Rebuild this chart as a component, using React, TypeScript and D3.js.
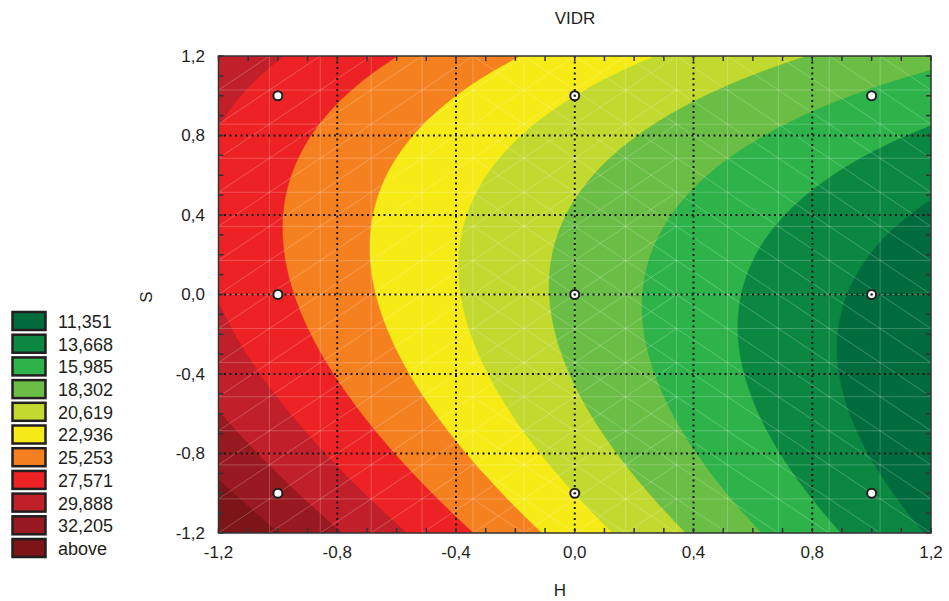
import React, { useMemo } from "react";
import * as d3 from "d3";

// ---- data ----
const levels = [11.351, 13.668, 15.985, 18.302, 20.619, 22.936, 25.253, 27.571, 29.888, 32.205];
const legendLabels = ["11,351", "13,668", "15,985", "18,302", "20,619", "22,936", "25,253", "27,571", "29,888", "32,205", "above"];
const bandColors = ["#006b3d", "#0c8742", "#2db34a", "#6abd45", "#c2d92f", "#f6eb16", "#f58020", "#ed2224", "#c1202a", "#98191f", "#7c1418"];
const tickValues = [-1.2, -0.8, -0.4, 0, 0.4, 0.8, 1.2];
const tickLabels = ["-1,2", "-0,8", "-0,4", "0,0", "0,4", "0,8", "1,2"];
const gridValues = [-0.8, -0.4, 0, 0.4, 0.8];
// design points: [H, S, hasCentreDot]
const designPoints: [number, number, boolean][] = [
  [-1, 1, false], [0, 1, true], [1, 1, false],
  [-1, 0, false], [0, 0, true], [1, 0, true],
  [-1, -1, false], [0, -1, true], [1, -1, false],
];

// contour crossings (H, S), one list per level
const contour11351 = [[1.2, 0.48], [1.0, 0.21], [0.9, -0.04], [0.87, -0.25], [0.89, -0.41], [0.94, -0.64], [1.05, -0.93], [1.16, -1.19]];
const contour13668 = [[1.2, 0.85], [0.98, 0.7], [0.81, 0.55], [0.69, 0.35], [0.6, 0.16], [0.55, 0.0], [0.545, -0.17], [0.56, -0.34], [0.61, -0.54], [0.69, -0.78], [0.79, -1.03], [0.89, -1.19]];
const contour15985 = [[1.2, 1.12], [0.8, 0.95], [0.52, 0.7], [0.42, 0.58], [0.33, 0.4], [0.26, 0.23], [0.23, 0.03], [0.225, -0.1], [0.24, -0.27], [0.28, -0.44], [0.35, -0.64], [0.42, -0.8], [0.53, -1.03], [0.62, -1.19]];
const contour18302 = [[0.79, 1.2], [0.42, 0.98], [0.24, 0.82], [0.11, 0.67], [0.01, 0.52], [-0.06, 0.33], [-0.08, 0.16], [-0.085, 0.0], [-0.07, -0.17], [-0.02, -0.36], [0.045, -0.56], [0.15, -0.78], [0.26, -1.01], [0.36, -1.19]];
const contour20619 = [[0.25, 1.2], [0.0, 1.0], [-0.17, 0.8], [-0.29, 0.57], [-0.36, 0.4], [-0.387, 0.2], [-0.393, 0.06], [-0.38, -0.07], [-0.35, -0.24], [-0.3, -0.41], [-0.24, -0.58], [-0.15, -0.8], [0.0, -1.0], [0.13, -1.19]];
const contour22936 = [[-0.19, 1.2], [-0.39, 0.99], [-0.505, 0.85], [-0.595, 0.7], [-0.663, 0.52], [-0.687, 0.365], [-0.691, 0.164], [-0.676, 0.0], [-0.64, -0.17], [-0.59, -0.32], [-0.505, -0.52], [-0.415, -0.71], [-0.303, -0.96], [-0.223, -1.035], [-0.12, -1.19]];
const contour25253 = [[-0.607, 1.2], [-0.73, 1.05], [-0.83, 0.9], [-0.92, 0.7], [-0.97, 0.52], [-0.985, 0.365], [-0.977, 0.164], [-0.955, 0.0], [-0.91, -0.17], [-0.865, -0.27], [-0.8, -0.41], [-0.707, -0.61], [-0.618, -0.78], [-0.528, -0.96], [-0.448, -1.035], [-0.345, -1.19]];
const contour27571 = [[-1.0, 1.2], [-1.1, 1.04], [-1.157, 0.92], [-1.2, 0.85], [-1.2, -0.06], [-1.134, -0.22], [-1.078, -0.37], [-0.977, -0.56], [-0.865, -0.73], [-0.752, -0.91], [-0.68, -1.035], [-0.561, -1.19]];
const contour29888 = [[-1.2, -0.59], [-1.112, -0.725], [-1.033, -0.842], [-0.94, -1.02], [-0.8, -1.19]];
const contour32205 = [[-1.2, -0.95], [-1.09, -1.035], [-1.02, -1.19]];
const tracesByLevel = [contour11351, contour13668, contour15985, contour18302, contour20619, contour22936, contour25253, contour27571, contour29888, contour32205];

// ---- layout ----
const W = 949, H = 601;
const left = 218.5, right = 931, top = 56, bottom = 533;
const FONT = "'Liberation Sans', Arial, sans-serif";
const TEXT = "#231f20";

function terms(h: number, s: number) {
  return [1, h, s, h * h, h * s, s * s, h * h * h, h * h * s, h * s * s, s * s * s];
}
function solve(A: number[][], b: number[]) {
  const n = b.length;
  const M = A.map((row, i) => [...row, b[i]]);
  for (let c = 0; c < n; c++) {
    let p = c;
    for (let r = c + 1; r < n; r++) if (Math.abs(M[r][c]) > Math.abs(M[p][c])) p = r;
    const tmp = M[c]; M[c] = M[p]; M[p] = tmp;
    for (let r = 0; r < n; r++) {
      if (r === c) continue;
      const f = M[r][c] / M[c][c];
      for (let k = c; k <= n; k++) M[r][k] -= f * M[c][k];
    }
  }
  return M.map((row, i) => row[n] / row[i]);
}
function fitSurface() {
  const k = 10;
  const A = Array.from({ length: k }, () => new Array(k).fill(0));
  const b = new Array(k).fill(0);
  tracesByLevel.forEach((pts, li) => {
    pts.forEach(([h, s]) => {
      const t = terms(h, s);
      for (let r = 0; r < k; r++) {
        b[r] += t[r] * levels[li];
        for (let c = 0; c < k; c++) A[r][c] += t[r] * t[c];
      }
    });
  });
  return solve(A, b);
}

export default function App() {
  const x = d3.scaleLinear().domain([-1.2, 1.2]).range([left, right]);
  const y = d3.scaleLinear().domain([-1.2, 1.2]).range([bottom, top]);

  const bands = useMemo(() => {
    const coef = fitSurface();
    const n = 240;
    const step = 2.4 / n;
    const values = new Array(n * n);
    for (let j = 0; j < n; j++) {
      const s = 1.2 - (j + 0.5) * step;
      for (let i = 0; i < n; i++) {
        const h = -1.2 + (i + 0.5) * step;
        const t = terms(h, s);
        let v = 0;
        for (let q = 0; q < t.length; q++) v += coef[q] * t[q];
        values[j * n + i] = v;
      }
    }
    const cs = d3.contours().size([n, n]).thresholds(levels)(values);
    const proj = d3.geoTransform({
      point(px: number, py: number) {
        (this as any).stream.point(x(-1.2 + px * step), y(1.2 - py * step));
      },
    });
    const path = d3.geoPath(proj);
    return cs.map((c, i) => ({ d: path(c as any) || "", color: bandColors[i + 1] }));
  }, []);

  const minor = d3.range(-12, 13).map((v) => v / 10);
  const nCells = 14;
  const cw = (right - left) / nCells, ch = (bottom - top) / nCells;
  const mesh: string[] = [];
  for (let k = 1; k < nCells; k++) {
    mesh.push(`M${left + k * cw},${top}V${bottom}`);
    mesh.push(`M${left},${top + k * ch}H${right}`);
  }
  for (let c = 0; c < nCells; c++) {
    for (let r = 0; r < nCells; r++) {
      const x0 = left + c * cw, y0 = top + r * ch;
      if (c < 9) mesh.push(`M${x0},${y0 + ch}L${x0 + cw},${y0}`);
      if (c >= 5) mesh.push(`M${x0},${y0}L${x0 + cw},${y0 + ch}`);
    }
  }

  return (
    <svg width={W} height={H} style={{ position: "absolute", left: 0, top: 0, background: "#fff" }} fontFamily={FONT}>
      <defs>
        <clipPath id="plot">
          <rect x={left} y={top} width={right - left} height={bottom - top} />
        </clipPath>
      </defs>
      <g clipPath="url(#plot)">
        <rect x={left} y={top} width={right - left} height={bottom - top} fill={bandColors[0]} />
        {bands.map((b, i) => (
          <path key={i} d={b.d} fill={b.color} stroke={b.color} strokeWidth={0.5} />
        ))}
        <path d={mesh.join("")} stroke="#fff" strokeOpacity={0.22} strokeWidth={1} fill="none" />
        {gridValues.map((v) => (
          <g key={v}>
            <line x1={x(v)} x2={x(v)} y1={top} y2={bottom} stroke="#1a1a1a" strokeWidth={2} strokeDasharray="2,3.5" />
            <line x1={left} x2={right} y1={y(v)} y2={y(v)} stroke="#1a1a1a" strokeWidth={2} strokeDasharray="2,3.5" />
          </g>
        ))}
        {designPoints.map(([h, s, dot], i) => (
          <g key={i}>
            <circle cx={x(h)} cy={y(s)} r={4.5} fill="#fff" stroke={TEXT} strokeWidth={2} />
            {dot && <circle cx={x(h)} cy={y(s)} r={1.3} fill={TEXT} />}
          </g>
        ))}
      </g>
      {/* ticks inward on all sides */}
      {minor.map((v) => (
        <g key={v} stroke="#333" strokeWidth={1.5}>
          <line x1={x(v)} x2={x(v)} y1={bottom} y2={bottom - 5} />
          <line x1={x(v)} x2={x(v)} y1={top} y2={top + 5} />
          <line x1={left} x2={left + 5} y1={y(v)} y2={y(v)} />
          <line x1={right} x2={right - 5} y1={y(v)} y2={y(v)} />
        </g>
      ))}
      <rect x={left} y={top} width={right - left} height={bottom - top} fill="none" stroke="#333" strokeWidth={1.5} />
      {tickValues.map((v, i) => (
        <text key={"x" + v} x={x(v)} y={558} textAnchor="middle" fontSize={17} fill={TEXT}>
          {tickLabels[i]}
        </text>
      ))}
      {tickValues.map((v, i) => (
        <text key={"y" + v} x={205} y={y(v)} dy="0.35em" textAnchor="end" fontSize={17} fill={TEXT}>
          {tickLabels[i]}
        </text>
      ))}
      <text x={575} y={24} textAnchor="middle" fontSize={17} fill={TEXT}>VIDR</text>
      <text x={560} y={596} textAnchor="middle" fontSize={17} fill={TEXT}>H</text>
      <text transform="translate(152,297) rotate(-90)" textAnchor="middle" fontSize={17} fill={TEXT}>S</text>
      {legendLabels.map((lab, i) => (
        <g key={lab}>
          <rect x={12.5} y={312 + i * 22.7} width={33} height={18} fill={bandColors[i]} stroke={TEXT} strokeWidth={2.5} />
          <text x={58} y={321.5 + i * 22.7} dy="0.36em" fontSize={18} fill={TEXT}>{lab}</text>
        </g>
      ))}
    </svg>
  );
}
